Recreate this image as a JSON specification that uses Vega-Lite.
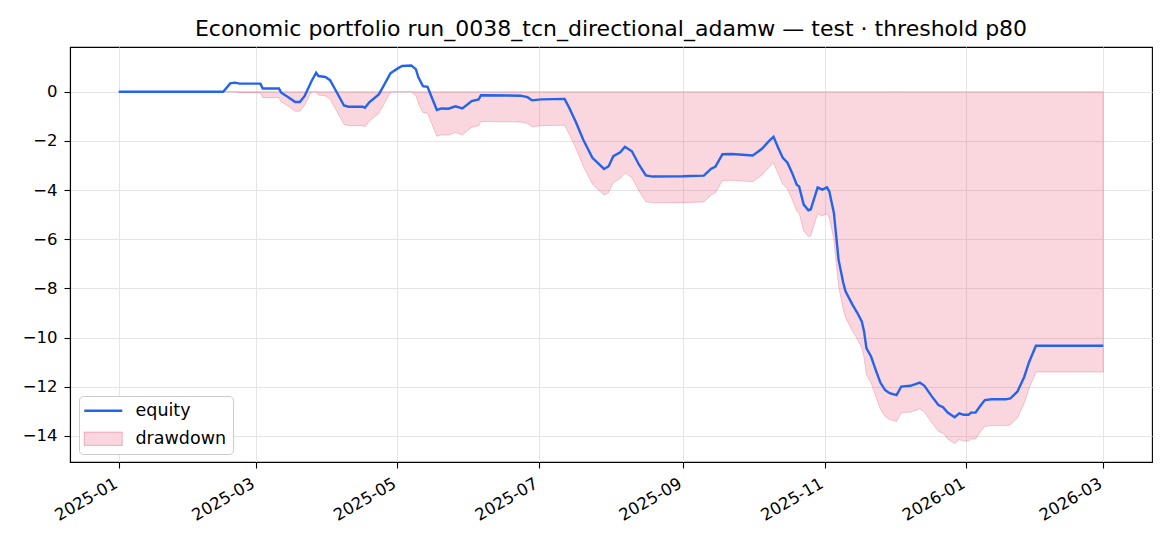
{
  "$schema": "https://vega.github.io/schema/vega-lite/v6.json",
  "width": 1082,
  "height": 415,
  "autosize": {"type": "none"},
  "padding": {"left": 70, "top": 47, "right": 18, "bottom": 84},
  "background": "white",
  "title": {
    "text": "Economic portfolio run_0038_tcn_directional_adamw — test · threshold p80",
    "font": "DejaVu Sans",
    "fontSize": 22,
    "fontWeight": "normal",
    "color": "#000000",
    "anchor": "middle",
    "offset": 6
  },
  "config": {
    "view": {"stroke": "#000000", "strokeWidth": 1.1},
    "font": "DejaVu Sans",
    "axis": {
      "labelFont": "DejaVu Sans",
      "labelFontSize": 16.5,
      "labelColor": "#000000",
      "domainColor": "#000000",
      "domainWidth": 1.1,
      "tickColor": "#000000",
      "tickSize": 6,
      "tickWidth": 1.1,
      "gridColor": "#e5e5e5",
      "gridWidth": 1,
      "title": null
    }
  },
  "data": {
    "values": [
      {"date": "2025-01-01", "equity": 0, "drawdown": 0},
      {"date": "2025-02-15", "equity": 0, "drawdown": 0},
      {"date": "2025-02-18", "equity": 0.34, "drawdown": 0},
      {"date": "2025-02-20", "equity": 0.37, "drawdown": 0},
      {"date": "2025-02-22", "equity": 0.33, "drawdown": -0.04},
      {"date": "2025-03-03", "equity": 0.33, "drawdown": -0.04},
      {"date": "2025-03-04", "equity": 0.13, "drawdown": -0.24},
      {"date": "2025-03-11", "equity": 0.13, "drawdown": -0.24},
      {"date": "2025-03-12", "equity": -0.04, "drawdown": -0.41},
      {"date": "2025-03-15", "equity": -0.22, "drawdown": -0.59},
      {"date": "2025-03-18", "equity": -0.42, "drawdown": -0.79},
      {"date": "2025-03-20", "equity": -0.42, "drawdown": -0.79},
      {"date": "2025-03-22", "equity": -0.18, "drawdown": -0.55},
      {"date": "2025-03-25", "equity": 0.43, "drawdown": 0},
      {"date": "2025-03-27", "equity": 0.77, "drawdown": 0},
      {"date": "2025-03-28", "equity": 0.64, "drawdown": -0.13},
      {"date": "2025-03-31", "equity": 0.6, "drawdown": -0.17},
      {"date": "2025-04-02", "equity": 0.47, "drawdown": -0.3},
      {"date": "2025-04-05", "equity": -0.04, "drawdown": -0.81},
      {"date": "2025-04-08", "equity": -0.56, "drawdown": -1.33},
      {"date": "2025-04-10", "equity": -0.61, "drawdown": -1.38},
      {"date": "2025-04-16", "equity": -0.61, "drawdown": -1.38},
      {"date": "2025-04-17", "equity": -0.65, "drawdown": -1.42},
      {"date": "2025-04-19", "equity": -0.42, "drawdown": -1.19},
      {"date": "2025-04-23", "equity": -0.11, "drawdown": -0.88},
      {"date": "2025-04-25", "equity": 0.23, "drawdown": -0.54},
      {"date": "2025-04-28", "equity": 0.75, "drawdown": -0.02},
      {"date": "2025-05-01", "equity": 0.94, "drawdown": 0},
      {"date": "2025-05-03", "equity": 1.05, "drawdown": 0},
      {"date": "2025-05-07", "equity": 1.07, "drawdown": 0},
      {"date": "2025-05-09", "equity": 0.91, "drawdown": -0.16},
      {"date": "2025-05-10", "equity": 0.6, "drawdown": -0.47},
      {"date": "2025-05-12", "equity": 0.23, "drawdown": -0.84},
      {"date": "2025-05-14", "equity": 0.2, "drawdown": -0.87},
      {"date": "2025-05-15", "equity": -0.04, "drawdown": -1.11},
      {"date": "2025-05-18", "equity": -0.74, "drawdown": -1.81},
      {"date": "2025-05-20", "equity": -0.68, "drawdown": -1.75},
      {"date": "2025-05-23", "equity": -0.69, "drawdown": -1.76},
      {"date": "2025-05-26", "equity": -0.59, "drawdown": -1.66},
      {"date": "2025-05-29", "equity": -0.68, "drawdown": -1.75},
      {"date": "2025-06-02", "equity": -0.38, "drawdown": -1.45},
      {"date": "2025-06-05", "equity": -0.31, "drawdown": -1.38},
      {"date": "2025-06-06", "equity": -0.14, "drawdown": -1.21},
      {"date": "2025-06-23", "equity": -0.16, "drawdown": -1.23},
      {"date": "2025-06-26", "equity": -0.22, "drawdown": -1.29},
      {"date": "2025-06-28", "equity": -0.35, "drawdown": -1.42},
      {"date": "2025-07-02", "equity": -0.31, "drawdown": -1.38},
      {"date": "2025-07-12", "equity": -0.29, "drawdown": -1.36},
      {"date": "2025-07-14", "equity": -0.65, "drawdown": -1.72},
      {"date": "2025-07-17", "equity": -1.26, "drawdown": -2.33},
      {"date": "2025-07-20", "equity": -1.94, "drawdown": -3.01},
      {"date": "2025-07-24", "equity": -2.69, "drawdown": -3.76},
      {"date": "2025-07-29", "equity": -3.14, "drawdown": -4.21},
      {"date": "2025-07-31", "equity": -3.03, "drawdown": -4.1},
      {"date": "2025-08-02", "equity": -2.62, "drawdown": -3.69},
      {"date": "2025-08-05", "equity": -2.46, "drawdown": -3.53},
      {"date": "2025-08-07", "equity": -2.24, "drawdown": -3.31},
      {"date": "2025-08-10", "equity": -2.42, "drawdown": -3.49},
      {"date": "2025-08-13", "equity": -2.96, "drawdown": -4.03},
      {"date": "2025-08-16", "equity": -3.4, "drawdown": -4.47},
      {"date": "2025-08-19", "equity": -3.45, "drawdown": -4.52},
      {"date": "2025-09-01", "equity": -3.44, "drawdown": -4.51},
      {"date": "2025-09-10", "equity": -3.41, "drawdown": -4.48},
      {"date": "2025-09-13", "equity": -3.14, "drawdown": -4.21},
      {"date": "2025-09-15", "equity": -3.04, "drawdown": -4.11},
      {"date": "2025-09-18", "equity": -2.54, "drawdown": -3.61},
      {"date": "2025-09-22", "equity": -2.53, "drawdown": -3.6},
      {"date": "2025-10-01", "equity": -2.59, "drawdown": -3.66},
      {"date": "2025-10-03", "equity": -2.46, "drawdown": -3.53},
      {"date": "2025-10-05", "equity": -2.32, "drawdown": -3.39},
      {"date": "2025-10-08", "equity": -2.01, "drawdown": -3.08},
      {"date": "2025-10-10", "equity": -1.83, "drawdown": -2.9},
      {"date": "2025-10-12", "equity": -2.28, "drawdown": -3.35},
      {"date": "2025-10-14", "equity": -2.69, "drawdown": -3.76},
      {"date": "2025-10-16", "equity": -2.89, "drawdown": -3.96},
      {"date": "2025-10-18", "equity": -3.3, "drawdown": -4.37},
      {"date": "2025-10-20", "equity": -3.78, "drawdown": -4.85},
      {"date": "2025-10-21", "equity": -3.85, "drawdown": -4.92},
      {"date": "2025-10-23", "equity": -4.59, "drawdown": -5.66},
      {"date": "2025-10-25", "equity": -4.82, "drawdown": -5.89},
      {"date": "2025-10-26", "equity": -4.79, "drawdown": -5.86},
      {"date": "2025-10-29", "equity": -3.89, "drawdown": -4.96},
      {"date": "2025-10-31", "equity": -3.98, "drawdown": -5.05},
      {"date": "2025-11-02", "equity": -3.89, "drawdown": -4.96},
      {"date": "2025-11-03", "equity": -4.05, "drawdown": -5.12},
      {"date": "2025-11-05", "equity": -4.93, "drawdown": -6.0},
      {"date": "2025-11-07", "equity": -6.83, "drawdown": -7.9},
      {"date": "2025-11-09", "equity": -7.76, "drawdown": -8.83},
      {"date": "2025-11-10", "equity": -8.12, "drawdown": -9.19},
      {"date": "2025-11-13", "equity": -8.66, "drawdown": -9.73},
      {"date": "2025-11-15", "equity": -8.98, "drawdown": -10.05},
      {"date": "2025-11-17", "equity": -9.34, "drawdown": -10.41},
      {"date": "2025-11-18", "equity": -9.75, "drawdown": -10.82},
      {"date": "2025-11-19", "equity": -10.43, "drawdown": -11.5},
      {"date": "2025-11-21", "equity": -10.77, "drawdown": -11.84},
      {"date": "2025-11-23", "equity": -11.31, "drawdown": -12.38},
      {"date": "2025-11-25", "equity": -11.83, "drawdown": -12.9},
      {"date": "2025-11-27", "equity": -12.13, "drawdown": -13.2},
      {"date": "2025-11-29", "equity": -12.26, "drawdown": -13.33},
      {"date": "2025-12-02", "equity": -12.34, "drawdown": -13.41},
      {"date": "2025-12-04", "equity": -11.99, "drawdown": -13.06},
      {"date": "2025-12-08", "equity": -11.96, "drawdown": -13.03},
      {"date": "2025-12-12", "equity": -11.83, "drawdown": -12.9},
      {"date": "2025-12-14", "equity": -11.96, "drawdown": -13.03},
      {"date": "2025-12-17", "equity": -12.37, "drawdown": -13.44},
      {"date": "2025-12-20", "equity": -12.74, "drawdown": -13.81},
      {"date": "2025-12-22", "equity": -12.83, "drawdown": -13.9},
      {"date": "2025-12-24", "equity": -13.05, "drawdown": -14.12},
      {"date": "2025-12-27", "equity": -13.24, "drawdown": -14.31},
      {"date": "2025-12-29", "equity": -13.08, "drawdown": -14.15},
      {"date": "2025-12-31", "equity": -13.14, "drawdown": -14.21},
      {"date": "2026-01-02", "equity": -13.14, "drawdown": -14.21},
      {"date": "2026-01-03", "equity": -13.05, "drawdown": -14.12},
      {"date": "2026-01-05", "equity": -13.05, "drawdown": -14.12},
      {"date": "2026-01-07", "equity": -12.78, "drawdown": -13.85},
      {"date": "2026-01-09", "equity": -12.54, "drawdown": -13.61},
      {"date": "2026-01-12", "equity": -12.51, "drawdown": -13.58},
      {"date": "2026-01-18", "equity": -12.51, "drawdown": -13.58},
      {"date": "2026-01-20", "equity": -12.47, "drawdown": -13.54},
      {"date": "2026-01-23", "equity": -12.2, "drawdown": -13.27},
      {"date": "2026-01-26", "equity": -11.59, "drawdown": -12.66},
      {"date": "2026-01-28", "equity": -11.01, "drawdown": -12.08},
      {"date": "2026-01-31", "equity": -10.33, "drawdown": -11.4},
      {"date": "2026-03-01", "equity": -10.33, "drawdown": -11.4}
    ]
  },
  "encoding": {
    "x": {
      "field": "date",
      "type": "temporal",
      "scale": {
        "type": "utc",
        "domain": [
          {"year": 2024, "month": 12, "date": 11, "utc": true},
          {"year": 2026, "month": 3, "date": 22, "utc": true}
        ]
      },
      "axis": {
        "values": [
          {"year": 2025, "month": 1, "date": 1, "utc": true},
          {"year": 2025, "month": 3, "date": 1, "utc": true},
          {"year": 2025, "month": 5, "date": 1, "utc": true},
          {"year": 2025, "month": 7, "date": 1, "utc": true},
          {"year": 2025, "month": 9, "date": 1, "utc": true},
          {"year": 2025, "month": 11, "date": 1, "utc": true},
          {"year": 2026, "month": 1, "date": 1, "utc": true},
          {"year": 2026, "month": 3, "date": 1, "utc": true}
        ],
        "format": "%Y-%m",
        "labelAngle": -30,
        "labelAlign": "right",
        "labelBaseline": "top",
        "labelPadding": 7,
        "labelOffset": -7,
        "grid": true,
        "labelOverlap": false,
        "labelFlush": false
      }
    }
  },
  "layer": [
    {
      "mark": {"type": "area", "fillOpacity": 0.18, "stroke": "#e11d48", "strokeOpacity": 0.22, "strokeWidth": 1},
      "encoding": {
        "y": {
          "field": "drawdown",
          "type": "quantitative",
          "scale": {"domain": [-15.06, 1.82], "nice": false, "zero": false},
          "axis": {
            "values": [-14, -12, -10, -8, -6, -4, -2, 0],
            "labelPadding": 7,
            "grid": true
          }
        },
        "y2": {"datum": 0},
        "color": {
          "datum": "drawdown",
          "type": "nominal",
          "scale": {"domain": ["equity", "drawdown"], "range": ["#2563eb", "#e11d48"]},
          "legend": {
            "title": null,
            "orient": "bottom-left",
            "offset": 8.5,
            "fillColor": "white",
            "strokeColor": "#cccccc",
            "cornerRadius": 4,
            "padding": 6,
            "labelFont": "DejaVu Sans",
            "labelFontSize": 17.5,
            "labelColor": "#000000",
            "labelOffset": 33,
            "symbolSize": 361,
            "rowPadding": 9,
            "encoding": {
              "symbols": {
                "shape": {"value": {"expr": "datum.value === 'equity' ? 'M-1,0H3' : 'M-1,-0.7H3V0.7H-1Z'"}},
                "fill": {"value": {"expr": "datum.value === 'equity' ? 'transparent' : '#e11d48'"}},
                "fillOpacity": {"value": {"expr": "datum.value === 'equity' ? 0 : 0.18"}},
                "stroke": {"value": {"expr": "datum.value === 'equity' ? '#2563eb' : '#e11d48'"}},
                "strokeOpacity": {"value": {"expr": "datum.value === 'equity' ? 1 : 0.3"}},
                "strokeWidth": {"value": {"expr": "datum.value === 'equity' ? 2.4 : 1"}},
                "opacity": {"value": 1}
              }
            }
          }
        }
      }
    },
    {
      "mark": {"type": "rule", "color": "#8b9bb4", "strokeWidth": 1.1, "opacity": 0.9},
      "encoding": {"y": {"datum": 0}}
    },
    {
      "mark": {"type": "line", "strokeWidth": 2.4, "interpolate": "linear"},
      "encoding": {
        "y": {"field": "equity", "type": "quantitative"},
        "color": {"datum": "equity", "type": "nominal"}
      }
    }
  ]
}
